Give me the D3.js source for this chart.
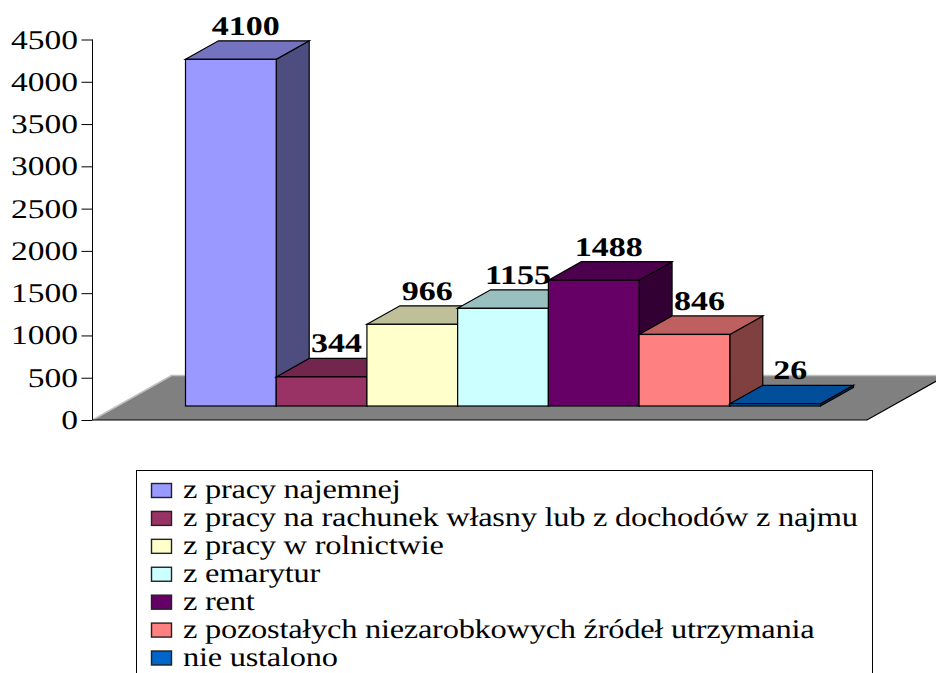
<!DOCTYPE html>
<html><head><meta charset="utf-8">
<script src="https://cdnjs.cloudflare.com/ajax/libs/d3/7.8.5/d3.min.js"></script>
<style>html,body{margin:0;padding:0;background:#fff;overflow:hidden}svg{display:block}text{font-family:"Liberation Serif",serif;fill:#000;text-rendering:geometricPrecision}</style>
</head><body><svg id="c" width="936" height="673"></svg>
<script>
const categories=["z pracy najemnej","z pracy na rachunek własny lub z dochodów z najmu","z pracy w rolnictwie","z emarytur","z rent","z pozostałych niezarobkowych źródeł utrzymania","nie ustalono"];
const values=[4100,344,966,1155,1488,846,26];
const tickValues=[0,500,1000,1500,2000,2500,3000,3500,4000,4500];
const colors=["#9999ff","#993366","#ffffcc","#ccffff","#660066","#ff8080","#0066cc"];

const svg=d3.select("#c");
const axisX=92.5, y0=420, yTop=39.5, wx=1.24;
const y=d3.scaleLinear().domain([0,4500]).range([y0,yTop]);
const floorFront=14, dx=33, dy=18.5, fdx=80, fdy=45;
const barY=v=>y(v)-floorFront;
const x=d3.scaleBand().domain(categories).range([185.5,820.5]);

// floor
svg.append("path").attr("d",`M${axisX},${y0}L${axisX+fdx},${y0-fdy}L947,${y0-fdy}L867,${y0}Z`)
  .attr("fill","#808080");
svg.append("path").attr("d",`M${axisX+fdx},${y0-fdy+.5}L947,${y0-fdy+.5}M${axisX},${y0}L${axisX+fdx},${y0-fdy}`)
  .attr("stroke","#c0c0c0").attr("fill","none").attr("stroke-width",1.5);
svg.append("path").attr("d",`M${axisX},${y0}L867,${y0}L947,${y0-fdy}`).attr("stroke","#000").attr("fill","none").attr("stroke-width",1.2);

// axis
const axis=d3.axisLeft(y).tickValues(tickValues).tickFormat(d3.format("d")).tickSize(11).tickPadding(0);
const gA=svg.append("g").attr("transform",`translate(${axisX},0)`).call(axis);
gA.selectAll("path,line").attr("stroke","#000").attr("stroke-width",1);
gA.select(".domain").attr("d",`M0,${y0}V${yTop}`);
gA.selectAll("text").remove();
svg.append("g").selectAll("text").data(tickValues).join("text")
  .attr("transform",d=>`translate(78,${y(d)+9}) scale(${wx},1)`)
  .attr("text-anchor","end").attr("font-size",27).text(d=>d);

// bars
const shade=(c,k)=>{const o=d3.rgb(c);return d3.rgb(o.r*k,o.g*k,o.b*k).formatHex()};
const g=svg.append("g").selectAll("g").data(categories.map((c,i)=>({c,i,v:values[i],col:colors[i]}))).join("g");
g.append("path").attr("d",d=>{const r=x(d.c)+x.bandwidth(),t=barY(d.v),b=barY(0);return `M${r},${t}L${r+dx},${t-dy}V${b-dy}L${r},${b}Z`})
 .attr("fill",d=>shade(d.col,.5)).attr("stroke","#000").attr("stroke-width",1.2);
g.append("path").attr("d",d=>{const l=x(d.c),r=l+x.bandwidth(),t=barY(d.v);return `M${l},${t}L${l+dx},${t-dy}H${r+dx}L${r},${t}Z`})
 .attr("fill",d=>shade(d.col,.75)).attr("stroke","#000").attr("stroke-width",1.2);
g.append("rect").attr("x",d=>x(d.c)).attr("width",x.bandwidth()).attr("y",d=>barY(d.v)).attr("height",d=>barY(0)-barY(d.v))
 .attr("fill",d=>d.col).attr("stroke","#000").attr("stroke-width",1.2);
// value labels
svg.append("g").selectAll("text").data(values).join("text")
 .attr("transform",(d,i)=>`translate(${x(categories[i])+x.bandwidth()/2+15},${barY(d)-dy-6}) scale(1.26,1)`)
 .attr("text-anchor","middle").attr("font-size",27).attr("font-weight","bold").text(d=>d);

// legend
svg.append("rect").attr("x",136.5).attr("y",470.5).attr("width",736).attr("height",240).attr("fill","none").attr("stroke","#000").attr("stroke-width",1);
const ly=d3.scalePoint().domain(categories).range([490.5,658]);
const lg=svg.append("g").selectAll("g").data(categories.map((c,i)=>({c,col:colors[i]}))).join("g");
lg.append("rect").attr("x",151.5).attr("y",d=>ly(d.c)-7).attr("width",20).attr("height",14).attr("fill",d=>d.col).attr("stroke","#222").attr("stroke-width",1.4);
lg.append("text").attr("transform",d=>`translate(183,${ly(d.c)+7.5}) scale(1.2,1)`).attr("font-size",27).attr("letter-spacing",-.2).text(d=>d.c);
</script></body></html>
